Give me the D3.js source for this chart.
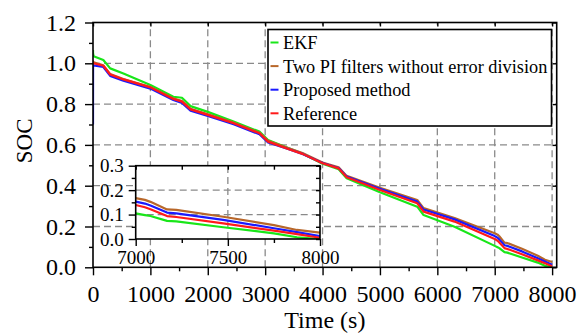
<!DOCTYPE html>
<html>
<head>
<meta charset="utf-8">
<script src="https://cdn.jsdelivr.net/npm/d3@7"></script>
<style>
  html, body { margin: 0; padding: 0; background: #fff; }
  svg { display: block; }
</style>
</head>
<body>
<svg id="chart" width="581" height="335"></svg>
<script>
// ---------------- DATA ----------------
const times = [0, 1, 10, 180, 300, 530, 1000, 1400, 1550, 1700, 2000, 2450, 2900, 3050, 3400, 3650, 4000, 4280, 4420, 5000, 5650, 5760, 6300, 7000, 7050, 7080, 7170, 7220, 7475, 7750, 7875, 8000];
const ekf       = [1.065, 1.05, 1.035, 1.016, 0.975, 0.95, 0.894, 0.836, 0.831, 0.79, 0.762, 0.714, 0.665, 0.624, 0.585, 0.558, 0.508, 0.481, 0.437, 0.368, 0.297, 0.256, 0.199, 0.105, 0.098, 0.094, 0.074, 0.072, 0.048, 0.023, 0.007, 0.0];
const twoPI     = [1.01, 1.01, 1.005, 0.99, 0.947, 0.923, 0.884, 0.828, 0.815, 0.777, 0.75, 0.709, 0.66, 0.62, 0.585, 0.56, 0.514, 0.49, 0.448, 0.39, 0.33, 0.29, 0.242, 0.167, 0.160, 0.152, 0.121, 0.119, 0.091, 0.057, 0.037, 0.026];
const proposed  = [0.70, 0.99, 0.99, 0.982, 0.938, 0.915, 0.876, 0.82, 0.806, 0.768, 0.742, 0.701, 0.652, 0.612, 0.58, 0.556, 0.511, 0.487, 0.445, 0.385, 0.322, 0.283, 0.235, 0.153, 0.145, 0.137, 0.108, 0.105, 0.078, 0.044, 0.028, 0.012];
const reference = [1.0, 1.0, 1.0, 0.988, 0.945, 0.921, 0.882, 0.825, 0.812, 0.774, 0.747, 0.706, 0.657, 0.616, 0.58, 0.556, 0.51, 0.485, 0.441, 0.379, 0.314, 0.273, 0.224, 0.139, 0.130, 0.122, 0.094, 0.090, 0.064, 0.034, 0.020, 0.005];

const seriesNames  = ["EKF", "Two PI filters without error division", "Proposed method", "Reference"];
const seriesValues = [ekf, twoPI, proposed, reference];
const seriesColors = ["#19e619", "#b8672a", "#1a1aff", "#ff1a1a"];

const xTicks      = [0, 1000, 2000, 3000, 4000, 5000, 6000, 7000, 8000];
const xMinorTicks = [500, 1500, 2500, 3500, 4500, 5500, 6500, 7500];
const yTicks      = [0.0, 0.2, 0.4, 0.6, 0.8, 1.0, 1.2];
const yMinorTicks = [0.1, 0.3, 0.5, 0.7, 0.9, 1.1];
const insetXTicks = [7000, 7500, 8000];
const insetXMinor = [7250, 7750];
const insetYTicks = [0.0, 0.1, 0.2, 0.3];
const insetYMinor = [0.05, 0.15, 0.25];

const xLabel = "Time (s)";
const yLabel = "SOC";

// ---------------- LAYOUT ----------------
const fontOf = px => `${px}px 'Liberation Serif'`;
const svg = d3.select("#chart");
svg.append("rect").attr("width", 581).attr("height", 335).attr("fill", "#fff");

const x = d3.scaleLinear().domain([0, 8080]).range([93, 556.7]);
const y = d3.scaleLinear().domain([0, 1.2]).range([267.3, 22.5]);

const defs = svg.append("defs");
defs.append("clipPath").attr("id", "mainClip").append("rect")
  .attr("x", x(0)).attr("y", y(1.2)).attr("width", x(8080) - x(0)).attr("height", y(0) - y(1.2));

function styleAxis(sel, size) {
  sel.attr("font-family", null).attr("font-size", null).style("font", fontOf(size));
  sel.selectAll("text").style("font", fontOf(size)).attr("fill", "#000");
  sel.selectAll("line").attr("stroke", "#000").attr("stroke-width", 1.4);
  sel.select(".domain").remove();
}

// grid
const grid = svg.append("g").attr("stroke", "#8a8a8a").attr("stroke-width", 1.3).attr("stroke-dasharray", "7,4");
grid.selectAll("line.vx").data(xTicks.filter(d => d > 0)).join("line")
  .attr("x1", d => x(d)).attr("x2", d => x(d)).attr("y1", y(0)).attr("y2", y(1.2));
grid.selectAll("line.hy").data(yTicks.filter(d => d > 0 && d < 1.2)).join("line")
  .attr("x1", x(0)).attr("x2", x(8080)).attr("y1", d => y(d)).attr("y2", d => y(d));

// lines
const lineGen = (xs, ys) => d3.line().x((d, i) => xs(times[i])).y(d => ys(d));
const mainLines = svg.append("g").attr("clip-path", "url(#mainClip)");
seriesValues.forEach((vals, k) => {
  mainLines.append("path").datum(vals)
    .attr("fill", "none").attr("stroke", seriesColors[k]).attr("stroke-width", 2.2)
    .attr("stroke-linejoin", "round")
    .attr("d", lineGen(x, y));
});

// frame
svg.append("rect").attr("x", x(0)).attr("y", y(1.2)).attr("width", x(8080) - x(0)).attr("height", y(0) - y(1.2))
  .attr("fill", "none").attr("stroke", "#000").attr("stroke-width", 1.6);

// axes
const gxb = svg.append("g").attr("transform", `translate(0,${y(0)})`)
  .call(d3.axisBottom(x).tickValues(xTicks).tickFormat(d3.format("d")).tickSize(8).tickPadding(10));
styleAxis(gxb, 24);
const gxbm = svg.append("g").attr("transform", `translate(0,${y(0)})`)
  .call(d3.axisBottom(x).tickValues(xMinorTicks).tickFormat("").tickSize(4));
styleAxis(gxbm, 24);
const gxt = svg.append("g").attr("transform", `translate(0,${y(1.2)})`)
  .call(d3.axisTop(x).tickValues(xTicks).tickFormat("").tickSize(-4));
styleAxis(gxt, 24);

const gyl = svg.append("g").attr("transform", `translate(${x(0)},0)`)
  .call(d3.axisLeft(y).tickValues(yTicks).tickFormat(d3.format(".1f")).tickSize(8).tickPadding(9));
styleAxis(gyl, 24);
const gylm = svg.append("g").attr("transform", `translate(${x(0)},0)`)
  .call(d3.axisLeft(y).tickValues(yMinorTicks).tickFormat("").tickSize(4));
styleAxis(gylm, 24);
const gyr = svg.append("g").attr("transform", `translate(${x(8080)},0)`)
  .call(d3.axisRight(y).tickValues(yTicks).tickFormat("").tickSize(-4));
styleAxis(gyr, 24);

// axis titles
svg.append("text").attr("x", (x(0) + x(8080)) / 2).attr("y", 328).attr("text-anchor", "middle")
  .style("font", fontOf(24)).attr("fill", "#000").text(xLabel);
svg.append("text").attr("transform", `translate(32,${(y(0) + y(1.2)) / 2 - 4}) rotate(-90)`)
  .attr("text-anchor", "middle").style("font", fontOf(23)).attr("fill", "#000").text(yLabel);

// ---------------- INSET ----------------
const ix = d3.scaleLinear().domain([7000, 8000]).range([135.7, 320]);
const iy = d3.scaleLinear().domain([0, 0.3]).range([239, 165.7]);
defs.append("clipPath").attr("id", "insetClip").append("rect")
  .attr("x", ix(7000)).attr("y", iy(0.3)).attr("width", ix(8000) - ix(7000)).attr("height", iy(0) - iy(0.3));

const inset = svg.append("g");
inset.append("rect").attr("x", ix(7000)).attr("y", iy(0.3)).attr("width", ix(8000) - ix(7000)).attr("height", iy(0) - iy(0.3))
  .attr("fill", "#fff");
const igrid = inset.append("g").attr("stroke", "#8a8a8a").attr("stroke-width", 1.3).attr("stroke-dasharray", "7,4");
igrid.selectAll("line.v").data([7500]).join("line")
  .attr("x1", d => ix(d)).attr("x2", d => ix(d)).attr("y1", iy(0)).attr("y2", iy(0.3));
igrid.selectAll("line.h").data([0.1, 0.2]).join("line")
  .attr("x1", ix(7000)).attr("x2", ix(8000)).attr("y1", d => iy(d)).attr("y2", d => iy(d));

const insetLines = inset.append("g").attr("clip-path", "url(#insetClip)");
seriesValues.forEach((vals, k) => {
  insetLines.append("path").datum(vals)
    .attr("fill", "none").attr("stroke", seriesColors[k]).attr("stroke-width", 2.2)
    .attr("stroke-linejoin", "round")
    .attr("d", lineGen(ix, iy));
});
inset.append("rect").attr("x", ix(7000)).attr("y", iy(0.3)).attr("width", ix(8000) - ix(7000)).attr("height", iy(0) - iy(0.3))
  .attr("fill", "none").attr("stroke", "#000").attr("stroke-width", 1.6);

const ixb = inset.append("g").attr("transform", `translate(0,${iy(0)})`)
  .call(d3.axisBottom(ix).tickValues(insetXTicks).tickFormat(d3.format("d")).tickSize(7).tickPadding(5));
styleAxis(ixb, 19);
const ixbm = inset.append("g").attr("transform", `translate(0,${iy(0)})`)
  .call(d3.axisBottom(ix).tickValues(insetXMinor).tickFormat("").tickSize(4));
styleAxis(ixbm, 19);
const ixt = inset.append("g").attr("transform", `translate(0,${iy(0.3)})`)
  .call(d3.axisTop(ix).tickValues(insetXTicks.concat(insetXMinor)).tickFormat("").tickSize(-4));
styleAxis(ixt, 19);
const iyl = inset.append("g").attr("transform", `translate(${ix(7000)},0)`)
  .call(d3.axisLeft(iy).tickValues(insetYTicks).tickFormat(d3.format(".1f")).tickSize(7).tickPadding(5));
styleAxis(iyl, 19);
const iylm = inset.append("g").attr("transform", `translate(${ix(7000)},0)`)
  .call(d3.axisLeft(iy).tickValues(insetYMinor).tickFormat("").tickSize(4));
styleAxis(iylm, 19);
const iyr = inset.append("g").attr("transform", `translate(${ix(8000)},0)`)
  .call(d3.axisRight(iy).tickValues(insetYTicks.concat(insetYMinor)).tickFormat("").tickSize(-4));
styleAxis(iyr, 19);

// ---------------- LEGEND ----------------
const lg = svg.append("g");
lg.append("rect").attr("x", 268).attr("y", 29.5).attr("width", 283.5).attr("height", 96.5)
  .attr("fill", "#fff").attr("stroke", "#000").attr("stroke-width", 1.6);
seriesNames.forEach((name, i) => {
  const cy = 42.5 + i * 23.6;
  lg.append("line").attr("x1", 270.5).attr("x2", 278.5).attr("y1", cy).attr("y2", cy)
    .attr("stroke", seriesColors[i]).attr("stroke-width", 2);
  lg.append("text").attr("x", 283).attr("y", cy).attr("dy", "0.35em")
    .style("font", fontOf(18.3)).attr("fill", "#000").text(name);
});
</script>
</body>
</html>
